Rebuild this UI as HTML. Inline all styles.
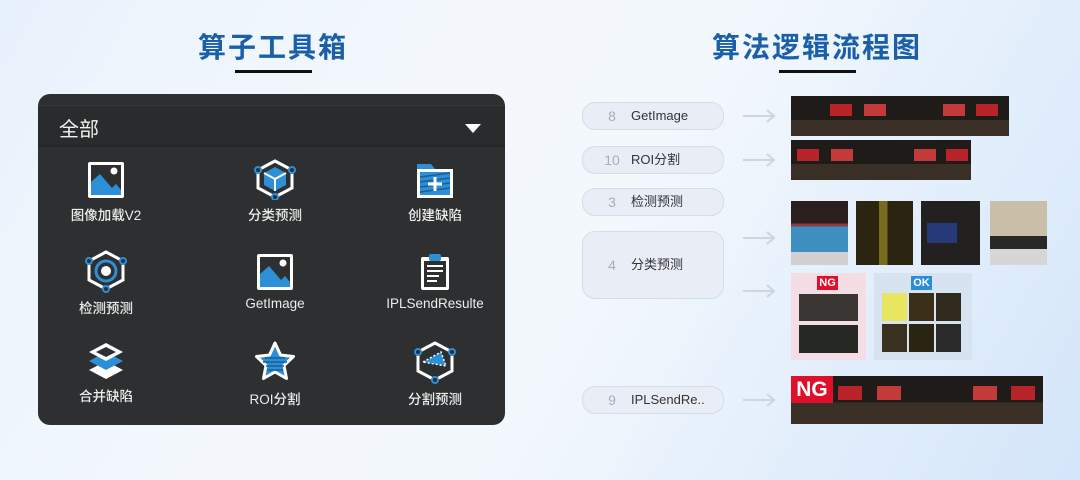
<!DOCTYPE html>
<html><head><meta charset="utf-8"><style>
*{margin:0;padding:0;box-sizing:border-box}
body{width:1080px;height:480px;overflow:hidden;position:relative;font-family:"Liberation Sans","Noto Sans CJK SC",sans-serif;
background:linear-gradient(120deg,#e8f2fc 0%,#f4f8fd 35%,#f3f8fd 55%,#e2eefb 78%,#d4e6fa 100%)}
.abs{position:absolute}
.title{position:absolute;top:26px;font-size:28px;font-weight:bold;color:#1a5fa8;letter-spacing:2px;white-space:nowrap;transform:translateX(-50%)}
.ul{position:absolute;top:70px;height:3px;background:#111;width:77px}
.panel{left:38px;top:94px;width:467px;height:331px;background:#2d2f30;border-radius:12px;overflow:hidden}
.hdr{position:absolute;left:0;top:11px;width:467px;height:42px;background:#292b2c;border-top:1px solid #353738;border-bottom:2px solid #242526}
.hdr span{position:absolute;left:21px;top:7px;color:#f0f0f0;font-size:20px}
.tri{position:absolute;left:427px;top:18px;width:0;height:0;border-left:8px solid transparent;border-right:8px solid transparent;border-top:9px solid #fff}
.it{position:absolute;width:160px;text-align:center;color:#ececec;font-size:13.5px;font-weight:500;transform:translateX(-50%)}
.it svg{display:block;margin:0 auto 4px}
.pill{position:absolute;left:582px;width:142px;background:#e8edf6;border:1px solid #d5dcea;border-radius:13px;font-size:13px;color:#333}
.pill b{position:absolute;left:0;width:58px;text-align:center;font-weight:normal;color:#a9aeb8;font-size:14px}
.pill i{position:absolute;left:48px;font-style:normal}
.arr{position:absolute;left:742px;width:34px;height:14px}
.img{position:absolute;background:#201c19;overflow:hidden}
</style></head><body>
<div class="title" style="left:273px">算子工具箱</div><div class="ul" style="left:235px"></div>
<div class="title" style="left:817px">算法逻辑流程图</div><div class="ul" style="left:779px"></div>

<div class="abs panel">
 <div class="hdr"><span>全部</span><div class="tri"></div></div>
 <div class="it" style="left:68px;top:66px"><svg width="40" height="40" viewBox="0 0 40 40"><rect x="2" y="2" width="36" height="36" rx="2" fill="#fff"/><rect x="5" y="5" width="30" height="30" fill="#2d2f30"/><path d="M5 35V22l9-8 12 14 4-4 5 6v5z" fill="#2d8fd6"/><circle cx="28" cy="11" r="3.5" fill="#fff"/></svg>图像加载V2</div>
 <div class="it" style="left:237px;top:64px"><svg width="44" height="42" viewBox="0 0 44 42"><path d="M22 3l17 9v18l-17 9-17-9V12z" fill="none" stroke="#fff" stroke-width="3"/><path d="M22 9l11 6v12l-11 6-11-6V15z" fill="#2d8fd6"/><path d="M11 15l11 6 11-6M22 21v12" stroke="#fff" stroke-width="2" fill="none"/><circle cx="5" cy="12" r="3" fill="#2d2f30" stroke="#2d8fd6" stroke-width="2"/><circle cx="39" cy="12" r="3" fill="#2d2f30" stroke="#2d8fd6" stroke-width="2"/><circle cx="22" cy="39" r="3" fill="#2d2f30" stroke="#2d8fd6" stroke-width="2"/></svg>分类预测</div>
 <div class="it" style="left:397px;top:66px"><svg width="40" height="40" viewBox="0 0 40 40"><path d="M2 4h14l4 5h18v29H2z" fill="#2d8fd6"/><rect x="2" y="9" width="36" height="29" fill="#fff"/><rect x="5" y="12" width="30" height="23" fill="#2d8fd6"/><path d="M5 17l30-4M5 22l30-4M5 27l30-4M5 32l30-4" stroke="#1b5e92" stroke-width="1.5"/><path d="M20 17v14M13 24h14" stroke="#fff" stroke-width="3"/></svg>创建缺陷</div>
 <div class="it" style="left:68px;top:155px"><svg width="44" height="44" viewBox="0 0 44 44"><path d="M22 3l17 9v19l-17 9-17-9V12z" fill="none" stroke="#fff" stroke-width="3"/><circle cx="22" cy="22" r="10" fill="none" stroke="#2d8fd6" stroke-width="3"/><circle cx="22" cy="22" r="5" fill="#fff"/><circle cx="5" cy="12" r="3" fill="#2d2f30" stroke="#2d8fd6" stroke-width="2"/><circle cx="39" cy="12" r="3" fill="#2d2f30" stroke="#2d8fd6" stroke-width="2"/><circle cx="22" cy="40" r="3" fill="#2d2f30" stroke="#2d8fd6" stroke-width="2"/></svg>检测预测</div>
 <div class="it" style="left:237px;top:158px"><svg width="40" height="40" viewBox="0 0 40 40"><rect x="2" y="2" width="36" height="36" rx="2" fill="#fff"/><rect x="5" y="5" width="30" height="30" fill="#2d2f30"/><path d="M5 35V22l9-8 12 14 4-4 5 6v5z" fill="#2d8fd6"/><circle cx="28" cy="11" r="3.5" fill="#fff"/></svg>GetImage</div>
 <div class="it" style="left:397px;top:158px"><svg width="40" height="40" viewBox="0 0 40 40"><rect x="6" y="5" width="28" height="33" rx="2" fill="#fff"/><rect x="9" y="9" width="22" height="26" fill="#2d2f30"/><rect x="14" y="2" width="12" height="7" rx="2" fill="#2d8fd6"/><path d="M12 14h16M12 19h16M12 24h12M12 29h10" stroke="#fff" stroke-width="2"/></svg>IPLSendResulte</div>
 <div class="it" style="left:68px;top:247px"><svg width="40" height="40" viewBox="0 0 40 40"><path d="M20 20l17 9-17 9-17-9z" fill="#fff"/><path d="M20 11l17 9-17 9-17-9z" fill="#2d8fd6"/><path d="M20 2l17 9-17 9-17-9z" fill="#fff"/><path d="M20 6l10 5-10 5-10-5z" fill="#2d2f30"/></svg>合并缺陷</div>
 <div class="it" style="left:237px;top:246px"><svg width="44" height="44" viewBox="0 0 44 44"><path d="M22 3l5.5 12 13 1.5-9.5 9 2.5 13L22 32l-11.5 6.5 2.5-13-9.5-9 13-1.5z" fill="#2d8fd6" stroke="#fff" stroke-width="3" stroke-linejoin="round"/><path d="M12 18h20M10 22h24M13 26h18M14 30h16" stroke="#1b5e92" stroke-width="1.5"/></svg>ROI分割</div>
 <div class="it" style="left:397px;top:246px"><svg width="44" height="44" viewBox="0 0 44 44"><path d="M22 3l17 9v19l-17 9-17-9V12z" fill="none" stroke="#fff" stroke-width="3"/><path d="M10 22l18-10 5 14z" fill="#2d8fd6"/><path d="M10 22l18-10 5 14z" fill="none" stroke="#fff" stroke-width="1.5" stroke-dasharray="2 2"/><circle cx="5" cy="12" r="3" fill="#2d2f30" stroke="#2d8fd6" stroke-width="2"/><circle cx="39" cy="12" r="3" fill="#2d2f30" stroke="#2d8fd6" stroke-width="2"/><circle cx="22" cy="40" r="3" fill="#2d2f30" stroke="#2d8fd6" stroke-width="2"/></svg>分割预测</div>
</div>

<div class="pill" style="top:102px;height:28px;line-height:26px"><b>8</b><i>GetImage</i></div>
<div class="pill" style="top:146px;height:28px;line-height:26px"><b>10</b><i>ROI分割</i></div>
<div class="pill" style="top:188px;height:28px;line-height:26px"><b>3</b><i>检测预测</i></div>
<div class="pill" style="top:231px;height:68px;line-height:66px"><b>4</b><i>分类预测</i></div>
<div class="pill" style="top:386px;height:28px;line-height:26px"><b>9</b><i>IPLSendRe..</i></div>

<svg class="arr" style="top:109px" viewBox="0 0 34 14"><path d="M1 7h31M25 1l7 6-7 6" stroke="#cfd4dd" stroke-width="2" fill="none"/></svg>
<svg class="arr" style="top:153px" viewBox="0 0 34 14"><path d="M1 7h31M25 1l7 6-7 6" stroke="#cfd4dd" stroke-width="2" fill="none"/></svg>
<svg class="arr" style="top:231px" viewBox="0 0 34 14"><path d="M1 7h31M25 1l7 6-7 6" stroke="#cfd4dd" stroke-width="2" fill="none"/></svg>
<svg class="arr" style="top:284px" viewBox="0 0 34 14"><path d="M1 7h31M25 1l7 6-7 6" stroke="#cfd4dd" stroke-width="2" fill="none"/></svg>
<svg class="arr" style="top:393px" viewBox="0 0 34 14"><path d="M1 7h31M25 1l7 6-7 6" stroke="#cfd4dd" stroke-width="2" fill="none"/></svg>

<div class="img" style="left:791px;top:96px;width:218px;height:40px;background:linear-gradient(#1e1b19 0 60%,#3a2f26 60%)">
 <div class="abs" style="left:39px;top:8px;width:22px;height:12px;background:#b8232a"></div><div class="abs" style="left:73px;top:8px;width:22px;height:12px;background:#c23a3a"></div><div class="abs" style="left:152px;top:8px;width:22px;height:12px;background:#c23a3a"></div><div class="abs" style="left:185px;top:8px;width:22px;height:12px;background:#b8232a"></div></div>
<div class="img" style="left:791px;top:140px;width:180px;height:40px;background:linear-gradient(#1e1b19 0 60%,#3a2f26 60%)">
 <div class="abs" style="left:6px;top:9px;width:22px;height:12px;background:#b8232a"></div><div class="abs" style="left:40px;top:9px;width:22px;height:12px;background:#c23a3a"></div><div class="abs" style="left:123px;top:9px;width:22px;height:12px;background:#c23a3a"></div><div class="abs" style="left:155px;top:9px;width:22px;height:12px;background:#b8232a"></div></div>
<div class="img" style="left:791px;top:201px;width:57px;height:64px;background:linear-gradient(#2a1e1e 0 35%,#8a3a40 35% 40%,#3d8fc0 40% 80%,#d0d0d0 80%)"></div>
<div class="img" style="left:856px;top:201px;width:57px;height:64px;background:linear-gradient(90deg,#2a2410 0 40%,#7a6a20 40% 55%,#2a2410 55%)"></div>
<div class="img" style="left:921px;top:201px;width:59px;height:64px;background:#23211f"><div class="abs" style="left:6px;top:22px;width:30px;height:20px;background:#263a7a"></div></div>
<div class="img" style="left:990px;top:201px;width:57px;height:64px;background:linear-gradient(#c9bfa8 0 55%,#2a2826 55% 75%,#d6d6d6 75%)"></div>

<div class="abs" style="left:791px;top:273px;width:75px;height:87px;background:#f4dde4">
 <div class="abs" style="left:26px;top:3px;width:21px;height:14px;background:#e0102a;color:#fff;font-size:11px;font-weight:bold;text-align:center;line-height:14px">NG</div>
 <div class="abs" style="left:8px;top:21px;width:59px;height:27px;background:#3a3633"></div>
 <div class="abs" style="left:8px;top:52px;width:59px;height:28px;background:#262823"></div></div>
<div class="abs" style="left:874px;top:273px;width:98px;height:87px;background:#d7e3f1">
 <div class="abs" style="left:37px;top:3px;width:21px;height:14px;background:#2a8dd8;color:#fff;font-size:11px;font-weight:bold;text-align:center;line-height:14px">OK</div>
 <div class="abs" style="left:8px;top:20px;width:25px;height:28px;background:#e8e660"></div>
 <div class="abs" style="left:35px;top:20px;width:25px;height:28px;background:#3a2f18"></div>
 <div class="abs" style="left:62px;top:20px;width:25px;height:28px;background:#2f2a1c"></div>
 <div class="abs" style="left:8px;top:51px;width:25px;height:28px;background:#3a3020"></div>
 <div class="abs" style="left:35px;top:51px;width:25px;height:28px;background:#2a2412"></div>
 <div class="abs" style="left:62px;top:51px;width:25px;height:28px;background:#2a2a2a"></div></div>

<div class="img" style="left:791px;top:376px;width:252px;height:48px;background:linear-gradient(#1e1b19 0 55%,#3a2f26 55%)">
 <div class="abs" style="left:47px;top:10px;width:24px;height:14px;background:#b8232a"></div><div class="abs" style="left:86px;top:10px;width:24px;height:14px;background:#c23a3a"></div><div class="abs" style="left:182px;top:10px;width:24px;height:14px;background:#c23a3a"></div><div class="abs" style="left:220px;top:10px;width:24px;height:14px;background:#b8232a"></div>
 <div class="abs" style="left:0;top:0;width:42px;height:27px;background:#e0102a;color:#fff;font-size:21px;font-weight:bold;text-align:center;line-height:27px">NG</div></div>
</body></html>
